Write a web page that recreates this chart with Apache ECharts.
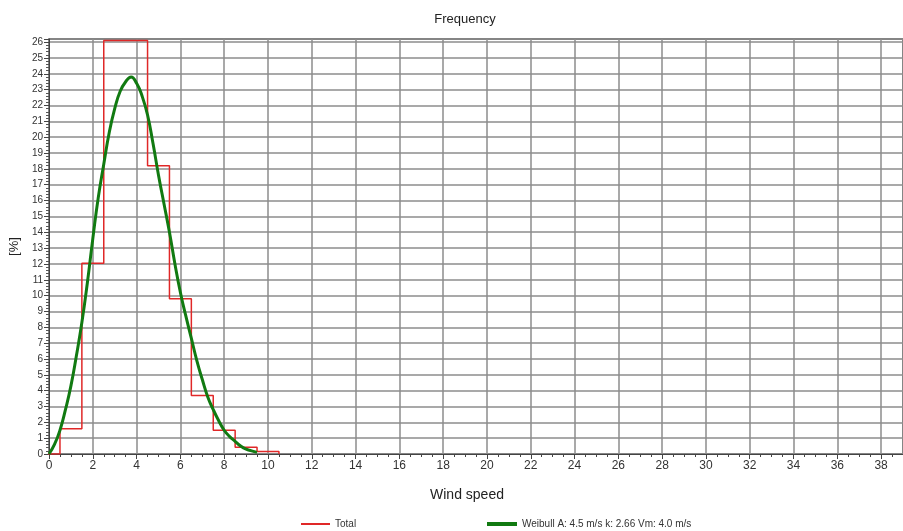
<!DOCTYPE html>
<html>
<head>
<meta charset="utf-8">
<script src="https://cdn.jsdelivr.net/npm/echarts@6/dist/echarts.min.js"></script>
<style>html,body{margin:0;padding:0;background:#fff;}#c{width:903px;height:531px;}</style>
</head>
<body>
<div id="c"></div>
<script>
// Histogram bins (bin centres, m/s) and frequency (%)
var binCenters = [0, 1, 2, 3, 4, 5, 6, 7, 8, 9, 10];
var binFreq    = [0, 1.6, 12.05, 26.1, 26.1, 18.2, 9.8, 3.7, 1.5, 0.42, 0.15];

// Weibull curve
var weibullX = [0,0.25,0.5,0.75,1,1.25,1.5,1.75,2,2.25,2.5,2.75,3,3.25,3.5,3.75,4,4.25,4.5,4.75,5,5.25,5.5,5.75,6,6.25,6.5,6.75,7,7.25,7.5,7.75,8,8.25,8.5,8.75,9,9.25,9.5];
var weibullY = [0,0.6,1.5,2.8,4.3,6.2,8.3,10.8,13.6,16.2,18.3,20.3,21.8,22.9,23.5,23.8,23.4,22.6,21.4,19.6,17.6,15.8,14.0,12.0,10.2,8.7,7.3,5.9,4.7,3.6,2.8,2.1,1.5,1.1,0.8,0.5,0.3,0.2,0.1];

var totalName = 'Total';
var weibullName = 'Weibull A: 4.5 m/s k: 2.66 Vm: 4.0 m/s';

var binWidth = 1;
var totalData = binCenters.map(function(c, i){ return [c - binWidth/2, binFreq[i]]; });
totalData.push([binCenters[binCenters.length-1] + binWidth/2, 0]);
var weibullData = weibullX.map(function(x, i){ return [x, weibullY[i]]; });

var chart = echarts.init(document.getElementById('c'));
var font = 'Liberation Sans, Arial, sans-serif';
chart.setOption({
  animation: false,
  backgroundColor: '#fff',
  title: [
    {text: 'Frequency', left: 460, top: 8, textAlign: 'center',
     textStyle: {fontFamily: font, fontSize: 13, fontWeight: 'normal', color: '#222'}},
    {text: 'Wind speed', left: 462, top: 483, textAlign: 'center',
     textStyle: {fontFamily: font, fontSize: 14, fontWeight: 'normal', color: '#222'}}
  ],
  legend: [
    {data: [totalName], left: 296, top: 514, icon: 'rect', itemWidth: 29, itemHeight: 2,
     textStyle: {fontFamily: font, fontSize: 10, color: '#333'}},
    {data: [weibullName], left: 482, top: 514, icon: 'rect', itemWidth: 30, itemHeight: 4,
     textStyle: {fontFamily: font, fontSize: 10, color: '#333'}}
  ],
  grid: {left: 46, right: 0, top: 39, bottom: 77, show: true, borderColor: '#444', borderWidth: 1.5},
  xAxis: {
    type: 'value', min: 0, max: 39, interval: 2,
    axisLine: {show: true, lineStyle: {color: '#444', width: 1}},
    axisTick: {show: true, length: 5, lineStyle: {color: '#444'}},
    minorTick: {show: true, splitNumber: 4, length: 3, lineStyle: {color: '#444'}},
    axisLabel: {fontFamily: font, fontSize: 12, color: '#333', margin: 6, showMaxLabel: false},
    splitLine: {show: true, lineStyle: {color: '#8c8c8c', width: 1.5}}
  },
  yAxis: {
    type: 'value', min: 0, max: 26.2, interval: 1,
    name: '[%]', nameLocation: 'middle', nameRotate: 90, nameGap: 21,
    nameTextStyle: {fontFamily: font, fontSize: 13, color: '#222'},
    axisLine: {show: true, lineStyle: {color: '#444', width: 1}},
    axisTick: {show: true, length: 5, lineStyle: {color: '#444'}},
    minorTick: {show: true, splitNumber: 5, length: 3, lineStyle: {color: '#555'}},
    axisLabel: {fontFamily: font, fontSize: 10, color: '#333', margin: 6, showMaxLabel: false},
    splitLine: {show: true, lineStyle: {color: '#8c8c8c', width: 1.5}}
  },
  series: [
    {name: totalName, type: 'line', step: 'end', data: totalData, symbol: 'none',
     lineStyle: {color: '#e02828', width: 1.5}, itemStyle: {color: '#e02828'}, z: 3},
    {name: weibullName, type: 'line', smooth: true, data: weibullData, symbol: 'none',
     lineStyle: {color: '#117a11', width: 3}, itemStyle: {color: '#117a11'}, z: 4}
  ]
});
</script>
</body>
</html>
